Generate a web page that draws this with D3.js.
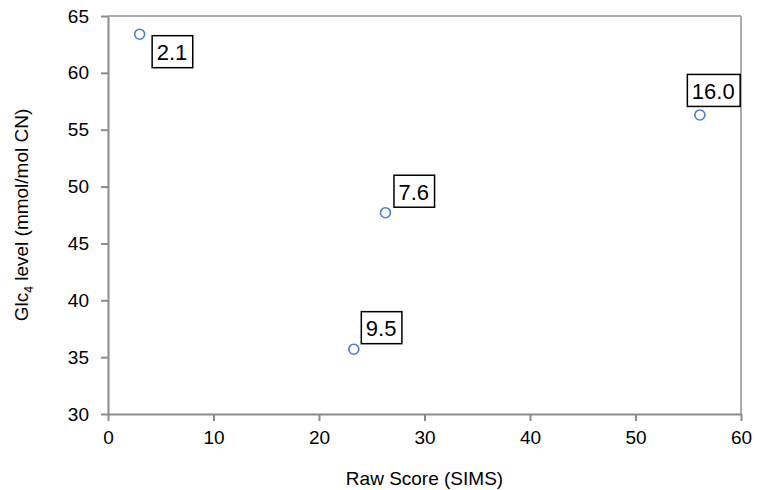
<!DOCTYPE html>
<html>
<head>
<meta charset="utf-8">
<script src="https://cdn.jsdelivr.net/npm/d3@7"></script>
<style>
  body { margin: 0; background: #fff; }
  text { font-family: "Liberation Sans", Arial, sans-serif; }
</style>
</head>
<body>
<div id="chart-area"></div>
<script>
// data
let rawScores = [3.0, 26.3, 23.3, 56.1];
let glcLevels = [63.4, 47.7, 35.7, 56.3];
let pointLabels = ["2.1", "7.6", "9.5", "16.0"];
let xTicks = [0, 10, 20, 30, 40, 50, 60];
let yTicks = [30, 35, 40, 45, 50, 55, 60, 65];

// label box offsets from each point (pixels)
let labelOffsets = [[12, 1], [8, -38], [7, -38], [-13, -41]];

let margin = { left:108, right:17, top:16, bottom:76 };
let width = 758 - margin.left - margin.right;
let height = 490 - margin.top - margin.bottom;

let svg = d3.select("#chart-area")
    .append("svg")
    .attr("width", 758)
    .attr("height", 490);

let g = svg.append("g")
    .attr("transform", "translate(" + margin.left + "," + margin.top + ")");

let xScale = d3.scaleLinear().domain([0, 60]).range([0, width]);
let yScale = d3.scaleLinear().domain([30, 65]).range([height, 0]);

// frame top / right
g.append("line")
    .attr("x1", 0).attr("x2", width).attr("y1", 0).attr("y2", 0)
    .attr("stroke", "#ababab").attr("stroke-width", 2);
g.append("line")
    .attr("x1", width).attr("x2", width).attr("y1", 0).attr("y2", height)
    .attr("stroke", "#ababab").attr("stroke-width", 2);

let xAxis = d3.axisBottom(xScale).tickValues(xTicks).tickSize(7).tickSizeOuter(0).tickPadding(10);
let xg = g.append("g")
    .attr("class", "x-axis")
    .attr("transform", "translate(0," + height + ")")
    .call(xAxis);

let yAxis = d3.axisLeft(yScale).tickValues(yTicks).tickSize(7).tickSizeOuter(0).tickPadding(12);
let yg = g.append("g")
    .attr("class", "y-axis")
    .call(yAxis);

[xg, yg].forEach(function(a){
    a.select(".domain").attr("stroke", "#8a8a8a").attr("stroke-width", 2);
    a.selectAll(".tick line").attr("stroke", "#8a8a8a").attr("stroke-width", 2);
    a.selectAll(".tick text")
        .attr("font-size", "19px")
        .attr("fill", "#000")
        .style("font-family", "'Liberation Sans', Arial, sans-serif");
});

// X LABEL
g.append("text")
    .attr("x", width / 2)
    .attr("y", height + 71)
    .attr("font-size", "19px")
    .attr("text-anchor", "middle")
    .text("Raw Score (SIMS)");

// Y LABEL
let yl = g.append("text")
    .attr("transform", "rotate(-90)")
    .attr("x", -(height / 2))
    .attr("y", -80)
    .attr("font-size", "19px")
    .attr("text-anchor", "middle");
yl.append("tspan").text("Glc");
yl.append("tspan").attr("font-size", "12px").attr("dy", 5).text("4");
yl.append("tspan").attr("dy", -5).text(" level (mmol/mol CN)");

let pts = rawScores.map(function(d, i){
    return { x: d, y: glcLevels[i], label: pointLabels[i], off: labelOffsets[i] };
});

// label boxes
let labels = g.selectAll(".lbl")
    .data(pts)
    .enter()
    .append("g")
    .attr("class", "lbl")
    .attr("transform", function(d){
        return "translate(" + (xScale(d.x) + d.off[0]) + "," + (yScale(d.y) + d.off[1]) + ")";
    });

labels.append("text")
    .attr("x", 5)
    .attr("y", 25)
    .attr("font-size", "22px")
    .text(function(d){ return d.label; });

labels.each(function(){
    let t = d3.select(this).select("text").node().getBBox();
    d3.select(this).insert("rect", "text")
        .attr("x", 0.5)
        .attr("y", 0.5)
        .attr("width", t.width + 10)
        .attr("height", 32)
        .attr("fill", "#fff")
        .attr("stroke", "#000")
        .attr("stroke-width", 1.5);
});

// points
g.selectAll("circle")
    .data(pts)
    .enter()
    .append("circle")
    .attr("cx", function(d){ return xScale(d.x); })
    .attr("cy", function(d){ return yScale(d.y); })
    .attr("r", 5)
    .attr("fill", "#fff")
    .attr("stroke", "#4a7fd4")
    .attr("stroke-width", 1.6);
</script>
</body>
</html>
